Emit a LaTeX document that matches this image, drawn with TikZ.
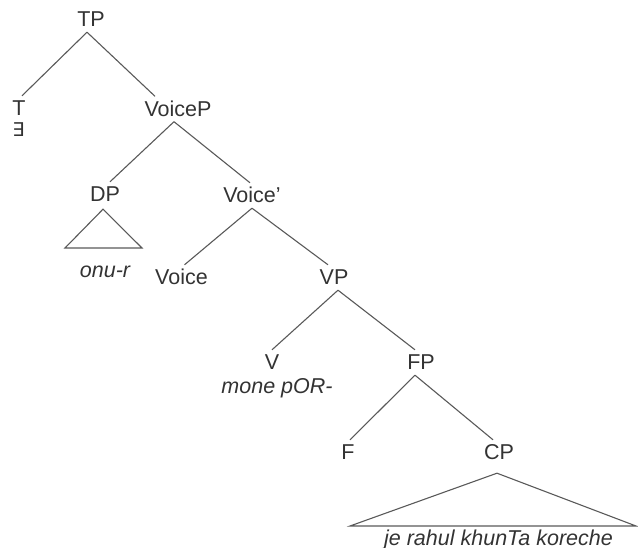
\documentclass[tikz,border=0pt]{standalone}
\usepackage{fontspec}
\setmainfont{Liberation Sans}
\newfontfamily\mathsymfont{DejaVu Sans}
\begin{document}
\begin{tikzpicture}[x=1pt, y=-1pt,
  lbl/.style={anchor=base, inner xsep=0pt, inner ysep=5pt,
    text height=15pt, text depth=0pt, text=black!80,
    font=\fontsize{21.5}{25}\selectfont},
  leaf/.style={lbl, font=\fontsize{21.5}{25}\selectfont\itshape},
  branch/.style={draw=black!65, line width=1.1pt}]
\useasboundingbox (0,0) rectangle (638,548);

% category labels
\node[lbl] (tp) at (91,27) {TP};
\node[lbl] (t) at (19,116) {T};
\node[lbl, font=\fontsize{19}{22}\selectfont\mathsymfont] (ex) at (18.5,137) {∃};
\node[lbl] (voicep) at (178,116.5) {VoiceP};
\node[lbl] (dp) at (105,202) {DP};
\node[leaf] (onur) at (105,278) {onu-r};
\node[lbl] (voicebar) at (252,203) {Voice’};
\node[lbl] (voice) at (181.5,285) {Voice};
\node[lbl] (vp) at (334,285) {VP};
\node[lbl] (v) at (272,370) {V};
\node[leaf] (mone) at (277,393) {mone pOR-};
\node[lbl] (fp) at (421,370) {FP};
\node[lbl] (f) at (348,460) {F};
\node[lbl] (cp) at (499,460) {CP};
\node[leaf] (cptext) at (498.5,545) {je rahul khunTa koreche};

% branches
\draw[branch] ([xshift=-4pt]tp.south) -- ([xshift=3pt]t.north);
\draw[branch] ([xshift=-4pt]tp.south) -- ([xshift=-23pt]voicep.north);
\draw[branch] ([xshift=-4pt]voicep.south) -- ([xshift=5pt]dp.north);
\draw[branch] ([xshift=-4pt]voicep.south) -- ([xshift=-2pt]voicebar.north);
\draw[branch] (voicebar.south) -- ([xshift=3pt]voice.north);
\draw[branch] (voicebar.south) -- ([xshift=-6pt]vp.north);
\draw[branch] ([xshift=4pt]vp.south) -- (v.north);
\draw[branch] ([xshift=4pt]vp.south) -- ([xshift=-6pt]fp.north);
\draw[branch] ([xshift=-6pt]fp.south) -- ([xshift=2pt]f.north);
\draw[branch] ([xshift=-6pt]fp.south) -- ([xshift=-6pt]cp.north);

% roofs over unanalysed constituents
\coordinate (dpl) at (65,248);
\coordinate (dpr) at (142,248);
\draw[branch] ([xshift=-2pt,yshift=-2pt]dp.south) -- (dpl) -- (dpr) -- cycle;
\coordinate (cpl) at (350,526);
\coordinate (cpr) at (636,526);
\draw[branch] ([xshift=-2pt,yshift=-8pt]cp.south) -- (cpl) -- (cpr) -- cycle;
\end{tikzpicture}
\end{document}
